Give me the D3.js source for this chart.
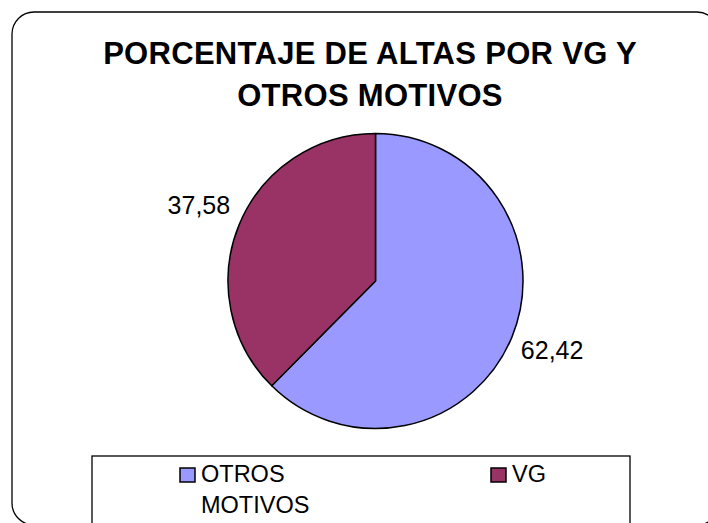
<!DOCTYPE html>
<html>
<head>
<meta charset="utf-8">
<script src="https://cdn.jsdelivr.net/npm/d3@7"></script>
<style>
  body { margin: 0; background: #fff; }
  svg { display: block; font-family: Arial, 'Liberation Sans', sans-serif; }
</style>
</head>
<body>
<div id="chart"></div>
<script>
// chart data
var categories = ['OTROS MOTIVOS', 'VG']
var values = [62.42, 37.58]
var labels = ['62,42', '37,58']
var colors = ['#9999FF', '#993366']
var titleLines = ['PORCENTAJE DE ALTAS POR VG Y', 'OTROS MOTIVOS']

var width = 708
var height = 523

var svg = d3
  .select('#chart')
  .append('svg')
  .attr('width', width)
  .attr('height', height)

// outer rounded frame
svg
  .append('rect')
  .attr('x', 12)
  .attr('y', 12)
  .attr('width', 707)
  .attr('height', 513)
  .attr('rx', 22)
  .attr('fill', 'none')
  .attr('stroke', '#000')
  .attr('stroke-width', 1.3)

// title
svg
  .append('g')
  .selectAll('text')
  .data(titleLines)
  .enter()
  .append('text')
  .attr('x', 370)
  .attr('y', (d, i) => 64 + i * 42)
  .attr('text-anchor', 'middle')
  .attr('font-size', 31)
  .attr('font-weight', 'bold')
  .attr('letter-spacing', 0.3)
  .text(d => d)

// pie
var cx = 375.5
var cy = 281
var radius = 147.5

var pie = d3.pie().sort(null)
var arcs = pie(values)

var arc = d3.arc().innerRadius(0).outerRadius(radius)
var labelArc = d3.arc().innerRadius(191).outerRadius(191)

var g = svg.append('g').attr('transform', 'translate(' + cx + ',' + cy + ')')

g.selectAll('path')
  .data(arcs)
  .enter()
  .append('path')
  .attr('d', arc)
  .attr('fill', (d, i) => colors[i])
  .attr('stroke', '#000')
  .attr('stroke-width', 1.5)
  .attr('stroke-linejoin', 'round')

g.selectAll('.lbl')
  .data(arcs)
  .enter()
  .append('text')
  .attr('class', 'lbl')
  .attr('transform', d => 'translate(' + labelArc.centroid(d) + ')')
  .attr('dy', '0.22em')
  .attr('text-anchor', 'middle')
  .attr('font-size', 25)
  .text((d, i) => labels[i])

// legend box
svg
  .append('rect')
  .attr('x', 92)
  .attr('y', 456)
  .attr('width', 538)
  .attr('height', 90)
  .attr('fill', '#fff')
  .attr('stroke', '#000')
  .attr('stroke-width', 1.3)

var legendX = [180, 491]
var legend = svg
  .selectAll('.legend')
  .data(categories)
  .enter()
  .append('g')
  .attr('class', 'legend')
  .attr('transform', (d, i) => 'translate(' + legendX[i] + ',468)')

legend
  .append('rect')
  .attr('width', 15)
  .attr('height', 14)
  .attr('fill', (d, i) => colors[i])
  .attr('stroke', '#000')
  .attr('stroke-width', 1.5)

legend
  .append('text')
  .attr('font-size', 23.5)
  .selectAll('tspan')
  .data(d => d.split(' '))
  .enter()
  .append('tspan')
  .attr('x', 21)
  .attr('y', (d, i) => 14 + i * 31)
  .text(d => d)
</script>
</body>
</html>
